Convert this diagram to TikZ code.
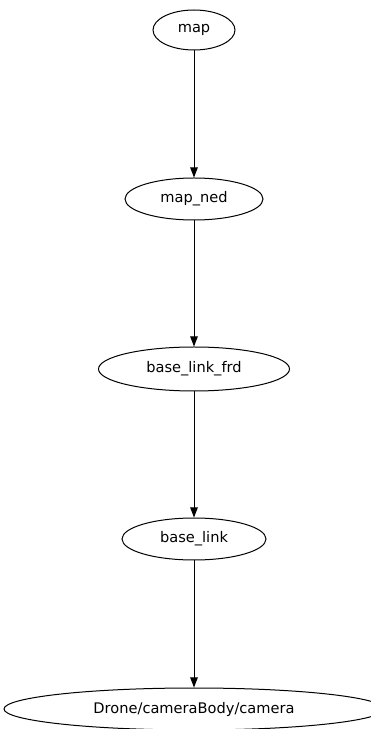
\documentclass[tikz,border=0pt]{standalone}
\usepackage{fontspec}
\setmainfont{DejaVu Sans}
\usetikzlibrary{shapes.geometric,arrows.meta}
\begin{document}
\begin{tikzpicture}[x=1pt,y=1pt,
  frame/.style={draw=black,line width=1pt,ellipse,inner sep=0pt,
    font=\fontsize{14.6}{16}\selectfont},
  link/.style={draw=black,line width=1pt,-{Triangle[length=10pt,width=7.5pt]}}]
  \useasboundingbox (0,0) rectangle (370,729);
  \node[frame,minimum width=82pt,minimum height=40pt]  (map)   at (194,699) {map};
  \node[frame,minimum width=138pt,minimum height=42pt] (ned)   at (194,530) {map\_ned};
  \node[frame,minimum width=191pt,minimum height=44pt] (frd)   at (194,360) {base\_link\_frd};
  \node[frame,minimum width=144pt,minimum height=42pt] (base)  at (194,190) {base\_link};
  \node[frame,minimum width=380pt,minimum height=42pt] (cam)   at (194,20)  {Drone/cameraBody/camera};
  \draw[link] (map) -- (ned);
  \draw[link] (ned) -- (frd);
  \draw[link] (frd) -- (base);
  \draw[link] (base) -- (cam);
\end{tikzpicture}
\end{document}
